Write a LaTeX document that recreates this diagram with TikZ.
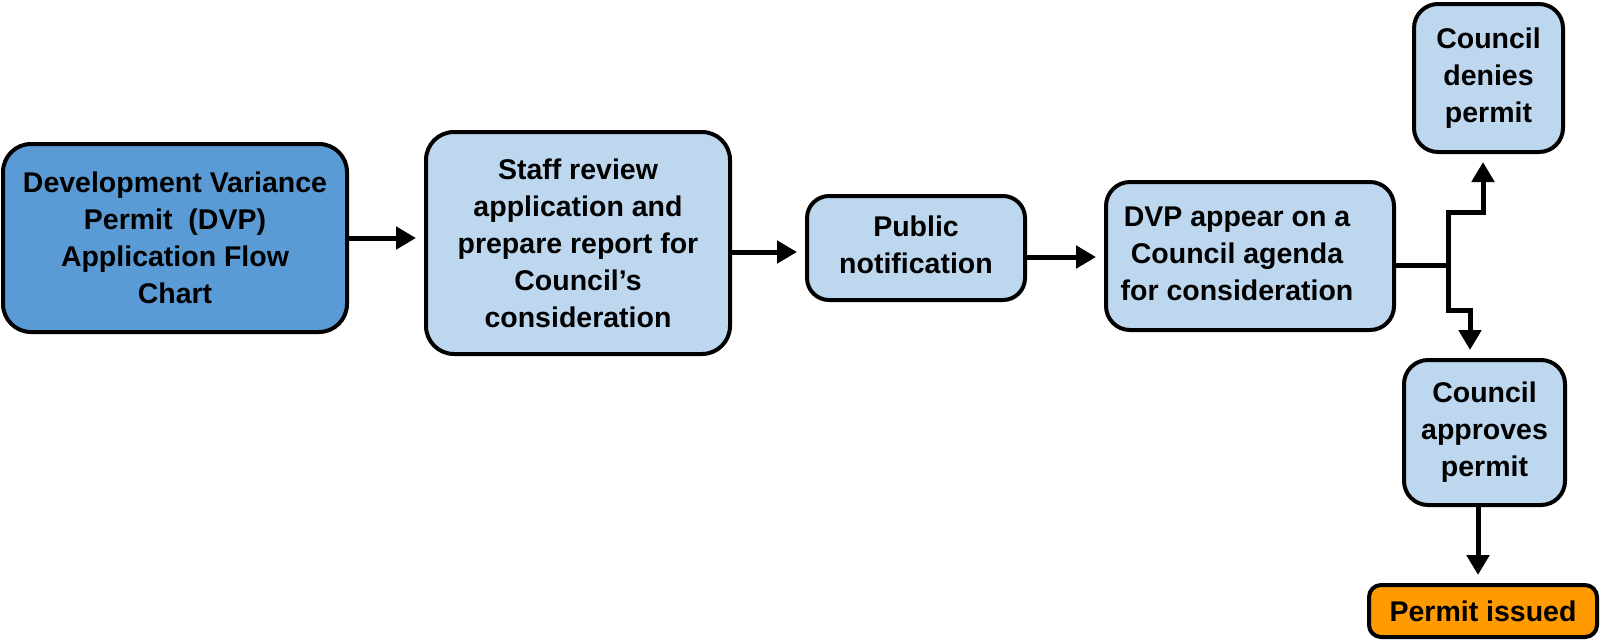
\documentclass[tikz,border=0pt]{standalone}
\usepackage{fontspec}
\setmainfont{Liberation Sans}
\usetikzlibrary{arrows.meta}
\definecolor{darkbox}{HTML}{5B9BD5}
\definecolor{lightbox}{HTML}{BDD7EE}
\definecolor{orangebox}{HTML}{FF9A00}
\tikzset{
  box/.style={draw=black, line width=4pt, rounded corners=28pt, fill=lightbox,
    align=center, inner sep=0pt, font=\fontsize{28.5}{37}\selectfont\bfseries},
  conn/.style={line width=5pt, -{Triangle[length=20pt,width=22pt]}, shorten >=8pt},
  plain/.style={line width=5pt}
}
\begin{document}
\begin{tikzpicture}[x=1pt,y=-1pt]
\useasboundingbox (0,0) rectangle (1600,641);
\node[box, fill=darkbox, minimum width=344pt, minimum height=188pt] (b1) at (175,238)
  {Development Variance\\Permit\ \ (DVP)\\Application Flow\\Chart};
\node[box, minimum width=304pt, minimum height=222pt] (b2) at (578,243)
  {Staff review\\application and\\prepare report for\\Council’s\\consideration};
\node[box, rounded corners=22pt, minimum width=218pt, minimum height=104pt] (b3) at (916,248)
  {\raisebox{4pt}{\begin{tabular}{@{}c@{}}Public\\notification\end{tabular}}};
\node[box, rounded corners=24pt, minimum width=288pt, minimum height=148pt] (b4) at (1250,256)
  {\hspace*{-26pt}\begin{tabular}{@{}c@{}}DVP appear on a\\Council agenda\\for consideration\end{tabular}};
\node[box, rounded corners=24pt, minimum width=149pt, minimum height=148pt] (b5) at (1488.5,78)
  {\raisebox{3pt}{\begin{tabular}{@{}c@{}}Council\\denies\\permit\end{tabular}}};
\node[box, rounded corners=24pt, minimum width=161pt, minimum height=145pt] (b6) at (1484.5,432.5)
  {Council\\approves\\permit};
\node[box, rounded corners=12pt, fill=orangebox, minimum width=228pt, minimum height=52pt] (b7) at (1483,611)
  {Permit issued};
\draw[conn] (b1.east) -- (b2.west |- b1.east);
\draw[conn] (b2.east |- 0,252) -- (b3.west |- 0,252);
\draw[conn] (b3.east |- 0,257) -- (b4.west |- 0,257);
\coordinate (j) at (1448,265);
\coordinate (u1) at (1448,212);
\coordinate (u2) at (1483,212);
\coordinate (d1) at (1448,310);
\coordinate (d2) at (1470,310);
\coordinate (s6) at (1478,506);
\draw[plain] (b4.east |- j) -- (j);
\draw[conn, line join=miter] (j) -- (u1) -- (u2) -- (u2 |- b5.south);
\draw[conn, line join=miter] (j) -- (d1) -- (d2) -- (d2 |- b6.north);
\draw[conn] (s6) -- (s6 |- b7.north);
\end{tikzpicture}
\end{document}
